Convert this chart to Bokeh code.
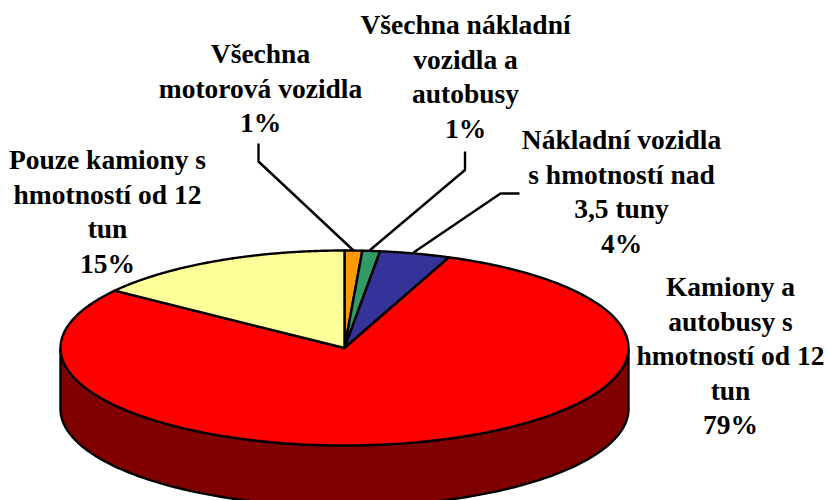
import numpy as np
from bokeh.plotting import figure
from bokeh.embed import file_html
from bokeh.resources import INLINE
from bokeh.core.properties import value

names = ["Všechna motorová vozidla", "Všechna nákladní vozidla a autobusy",
         "Nákladní vozidla s hmotností nad 3,5 tuny",
         "Kamiony a autobusy s hmotností od 12 tun", "Pouze kamiony s hmotností od 12 tun"]
label_lines = [["Všechna", "motorová vozidla"],
               ["Všechna nákladní", "vozidla a", "autobusy"],
               ["Nákladní vozidla", "s hmotností nad", "3,5 tuny"],
               ["Kamiony a", "autobusy s", "hmotností od 12", "tun"],
               ["Pouze kamiony s", "hmotností od 12", "tun"]]
shares = [1, 1, 4, 79, 15]
colors = ["#FF9900", "#339966", "#333399", "#FF0000", "#FFFF99"]
side_color = "#800000"

CX, CY, RX, RY, DEPTH = 344, 347.5, 284, 97.5, 61
label_x = [260, 465, 621, 730, 107]
label_top = [53, 24, 139, 286, 159]
LINE_H = 34.5
leaders = [([258, 258, 353], [143, 161, 250]),
           ([464.5, 464.5, 369], [151, 169.5, 250]),
           ([519, 500, 413], [193, 193, 252])]

p = figure(width=828, height=500, x_range=(0, 828), y_range=(500, 0),
           output_backend="svg", toolbar_location=None, min_border=0)
p.axis.visible = False
p.grid.visible = False
p.outline_line_color = None
p.background_fill_color = "white"


def rim(a0, a1, n=200):
    t = np.radians(np.linspace(a0, a1, n))
    return CX + RX * np.sin(t), CY - RY * np.cos(t)


# side wall: front half of the ellipse
xs, ys = rim(90, 270)
p.patch(np.r_[xs, xs[::-1]], np.r_[ys, ys[::-1] + DEPTH], fill_color=side_color,
        line_color="black", line_width=2.4)

# top slices
cum = np.r_[0, np.cumsum(shares)] / sum(shares) * 360
for i, c in enumerate(colors):
    xs, ys = rim(cum[i], cum[i + 1])
    p.patch(np.r_[CX, xs], np.r_[CY, ys], fill_color=c, line_color="black",
            line_width=2.4, line_join="round")

for lx, ly in leaders:
    p.line(lx, ly, line_color="black", line_width=2.4)

tx, ty, tt = [], [], []
for i, lines in enumerate(label_lines):
    rows = lines + [f"{shares[i]}%"]
    for j, row in enumerate(rows):
        tx.append(label_x[i])
        ty.append(label_top[i] + j * LINE_H)
        tt.append(row)
p.text(tx, ty, text=tt, text_align="center", text_baseline="middle",
       text_font=value("Liberation Serif"), text_font_style="bold",
       text_font_size="27.5px", text_color="black")

open("out.html", "w").write(file_html(p, INLINE))
